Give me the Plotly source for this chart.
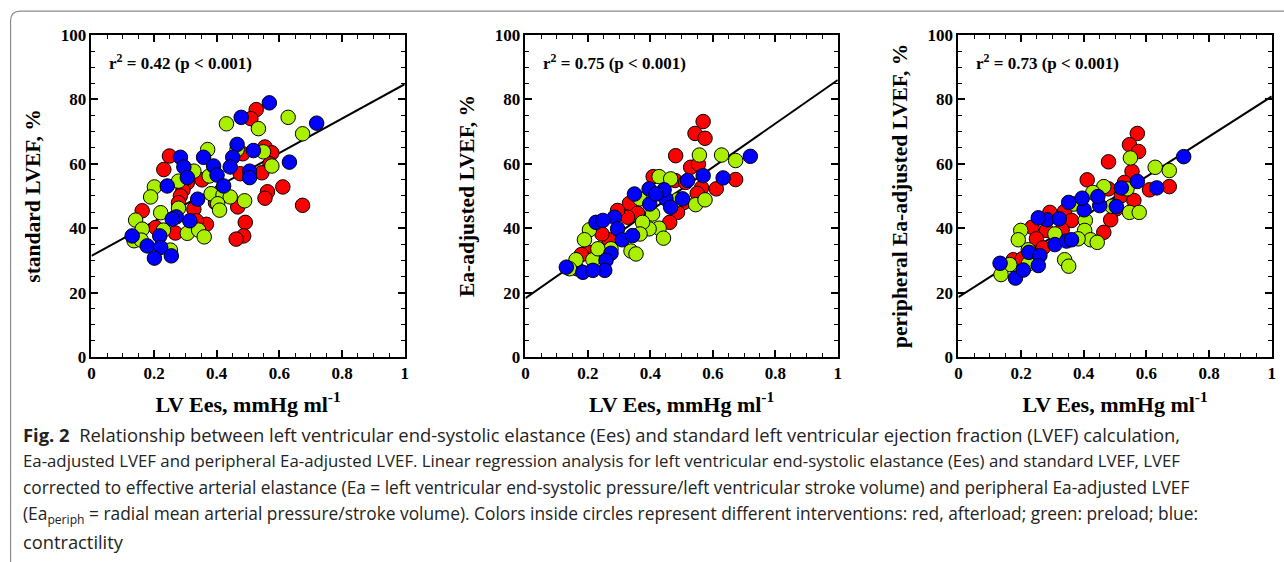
import plotly.graph_objects as go

W, H = 1284, 562

# ---------------- data ----------------
# Panel 1: standard LVEF
x1_red = [0.526,0.509,0.249,0.231,0.483,0.554,0.576,0.570,0.544,0.475,0.353,0.306,0.292,0.284,0.278,0.327,0.411,0.396,0.562,0.554,0.611,0.674,0.467,0.491,0.486,0.462,0.162,0.205,0.268,0.367,0.335]
y1_red = [76.8,74.0,62.4,58.2,63.1,65.2,63.4,60.0,57.2,56.9,55.0,54.1,51.8,50.0,47.9,45.9,51.3,47.9,51.3,49.3,52.8,47.1,46.6,41.8,37.6,36.6,45.4,40.2,38.5,41.2,42.3]
x1_green = [0.431,0.533,0.628,0.674,0.371,0.465,0.549,0.576,0.327,0.376,0.278,0.201,0.189,0.382,0.420,0.443,0.403,0.409,0.489,0.278,0.221,0.141,0.162,0.306,0.342,0.360,0.136,0.159,0.252,0.230]
y1_green = [72.4,70.9,74.4,69.3,64.4,64.4,63.7,59.3,57.7,56.2,54.6,52.8,49.7,50.7,50.3,49.7,47.6,45.6,48.5,46.2,44.8,42.5,39.7,38.4,39.4,37.3,36.1,36.3,33.2,39.4]
x1_blue = [0.568,0.478,0.719,0.465,0.517,0.451,0.284,0.358,0.632,0.295,0.390,0.443,0.401,0.505,0.505,0.242,0.422,0.306,0.339,0.271,0.314,0.258,0.130,0.218,0.178,0.221,0.255,0.201]
y1_blue = [78.9,74.4,72.6,66.0,64.1,62.0,62.0,62.0,60.5,59.0,59.3,59.0,56.5,57.7,55.7,53.1,53.1,55.7,49.0,43.5,42.3,42.8,37.6,37.6,34.5,34.0,31.4,30.7]

# Panel 2: Ea-adjusted LVEF
x2_red = [0.569,0.543,0.575,0.481,0.529,0.554,0.409,0.479,0.513,0.673,0.564,0.611,0.550,0.508,0.487,0.462,0.333,0.359,0.327,0.295,0.231,0.268,0.245,0.203,0.179,0.165]
y2_red = [73.1,69.4,67.9,62.5,58.9,59.9,56.0,54.8,54.2,55.1,52.5,52.2,50.8,48.0,44.9,41.8,47.7,44.6,43.4,45.5,41.0,36.4,38.2,32.5,31.8,27.4]
x2_green = [0.557,0.628,0.673,0.428,0.465,0.487,0.545,0.575,0.367,0.407,0.428,0.442,0.396,0.375,0.367,0.338,0.354,0.205,0.189,0.216,0.162,0.141,0.274,0.232]
y2_green = [62.7,62.7,61.0,56.0,55.3,48.8,47.3,48.8,49.1,44.4,40.0,36.9,39.8,41.8,38.2,32.9,32.0,39.5,36.4,30.2,30.2,27.4,33.6,33.6]
x2_blue = [0.720,0.633,0.569,0.519,0.503,0.450,0.444,0.465,0.396,0.398,0.349,0.418,0.285,0.295,0.310,0.343,0.226,0.248,0.274,0.258,0.254,0.131,0.184,0.216]
y2_blue = [62.3,55.6,56.3,54.8,49.1,49.1,51.9,46.5,52.2,47.5,50.6,50.6,43.4,39.8,36.4,37.7,41.8,42.4,32.2,30.0,26.9,27.9,26.3,26.9]

# Panel 3: peripheral Ea-adjusted LVEF
x3_red = [0.571,0.546,0.575,0.479,0.411,0.554,0.530,0.479,0.520,0.504,0.560,0.610,0.673,0.486,0.464,0.339,0.292,0.361,0.331,0.235,0.281,0.249,0.270,0.175,0.204]
y3_red = [69.4,65.9,63.8,60.6,55.0,57.6,54.2,52.2,50.1,46.0,48.6,51.9,52.9,42.6,38.7,45.2,44.9,42.4,39.5,40.3,39.3,36.7,33.9,30.2,30.5]
x3_green = [0.549,0.628,0.673,0.538,0.464,0.429,0.490,0.546,0.577,0.369,0.405,0.403,0.422,0.443,0.382,0.339,0.352,0.199,0.191,0.223,0.223,0.164,0.136,0.308]
y3_green = [61.8,58.9,57.9,52.2,52.9,51.1,46.8,44.9,44.9,47.5,42.4,39.3,36.4,35.6,36.7,30.2,28.2,39.3,36.4,33.3,28.9,28.7,25.6,38.2]
x3_blue = [0.719,0.633,0.571,0.520,0.504,0.451,0.445,0.401,0.395,0.352,0.283,0.308,0.345,0.255,0.225,0.260,0.255,0.133,0.182,0.207,0.322,0.361]
y3_blue = [62.2,52.5,54.5,52.5,46.7,47.0,49.8,45.7,49.3,48.0,42.6,34.9,36.0,43.2,32.5,31.5,28.4,29.1,24.5,27.0,42.9,36.4]

# regression lines
fit_intercept = [31.4, 18.3, 18.6]
fit_slope = [53.3, 67.7, 62.3]
fit_x = [0, 1]

r2_labels = ["0.42", "0.75", "0.73"]
y_titles = ["standard LVEF, %", "Ea-adjusted LVEF, %", "peripheral Ea-adjusted LVEF, %"]
x_title = "LV Ees, mmHg ml<sup>-1</sup>"

caption_lines = [
    "<b>Fig. 2</b>  Relationship between left ventricular end-systolic elastance (Ees) and standard left ventricular ejection fraction (LVEF) calculation,",
    "Ea-adjusted LVEF and peripheral Ea-adjusted LVEF. Linear regression analysis for left ventricular end-systolic elastance (Ees) and standard LVEF, LVEF",
    "corrected to effective arterial elastance (Ea = left ventricular end-systolic pressure/left ventricular stroke volume) and peripheral Ea-adjusted LVEF",
    "(Ea<sub>periph</sub> = radial mean arterial pressure/stroke volume). Colors inside circles represent different interventions: red, afterload; green: preload; blue:",
    "contractility",
]

# ---------------- styling ----------------
RED, GREEN, BLUE = "#ff0000", "#aaee00", "#0000ff"
SERIF = "Liberation Serif"

panels = [
    [(x1_red, y1_red, RED), (x1_green, y1_green, GREEN), (x1_blue, y1_blue, BLUE)],
    [(x2_red, y2_red, RED), (x2_green, y2_green, GREEN), (x2_blue, y2_blue, BLUE)],
    [(x3_red, y3_red, RED), (x3_green, y3_green, GREEN), (x3_blue, y3_blue, BLUE)],
]
x_domains = [(88.0 / W, 403.2 / W), (524.7 / W, 839.0 / W), (960.4 / W, 1275.7 / W)]
y_domain = (1 - 360.2 / H, 1 - 26.8 / H)

fig = go.Figure()
for i, series in enumerate(panels):
    ax = "" if i == 0 else str(i + 1)
    fig.add_trace(go.Scatter(
        x=fit_x, y=[fit_intercept[i] + fit_slope[i] * v for v in fit_x],
        mode="lines", line=dict(color="black", width=2),
        xaxis="x" + ax, yaxis="y" + ax, showlegend=False, hoverinfo="skip"))
    for xs, ys, col in series:
        fig.add_trace(go.Scatter(
            x=xs, y=ys, mode="markers",
            marker=dict(size=14.5, color=col, line=dict(color="black", width=1)),
            xaxis="x" + ax, yaxis="y" + ax, showlegend=False))

    axis_common = dict(
        showline=True, linecolor="black", linewidth=1.8, mirror="allticks",
        ticks="inside", ticklen=7, tickwidth=1.5, tickcolor="black",
        showgrid=False, zeroline=False,
        tickfont=dict(family=SERIF, size=17, color="black", weight="bold"),
    )
    fig.update_layout(**{
        "xaxis" + ax: dict(
            axis_common, domain=list(x_domains[i]), range=[0, 1], dtick=0.2, tick0=0,
            minor=dict(dtick=0.05, ticks="inside", ticklen=4, tickwidth=1.2, tickcolor="black"),
            anchor="y" + ax,
            title=dict(text=x_title, standoff=14,
                       font=dict(family=SERIF, size=22, color="black", weight="bold"))),
        "yaxis" + ax: dict(
            axis_common, domain=list(y_domain), range=[0, 100], dtick=20, tick0=0,
            minor=dict(dtick=5, ticks="inside", ticklen=4, tickwidth=1.2, tickcolor="black"),
            anchor="x" + ax,
            title=dict(text=y_titles[i], standoff=14,
                       font=dict(family=SERIF, size=21.5, color="black", weight="bold"))),
    })
    fig.add_annotation(
        x=0.05, y=91.6, xref="x" + ax, yref="y" + ax, xanchor="left", yanchor="middle",
        text="r<sup>2</sup> = " + r2_labels[i] + " (p < 0.001)", showarrow=False,
        font=dict(family=SERIF, size=17, color="black", weight="bold"))

# caption (per-line sizes emulate the justified column width)
caption_y = [440, 467.6, 495.2, 522.8, 551]
caption_size = [18.4, 16.8, 17.3, 17.35, 18.3]
for line, yp, fs in zip(caption_lines, caption_y, caption_size):
    fig.add_annotation(
        x=17 / W, y=1 - yp / H, xref="paper", yref="paper", xanchor="left", yanchor="middle",
        text=line, showarrow=False, align="left",
        font=dict(family="Open Sans", size=fs, color="#222222"))

# rounded frame
fx, fy, r = 6.6, 2.1, 10
fig.add_shape(
    type="path", xref="paper", yref="paper",
    path=(f"M {fx / W} -0.02 L {fx / W} {1 - (fy + r) / H} "
          f"Q {fx / W} {1 - fy / H} {(fx + r) / W} {1 - fy / H} L 1.02 {1 - fy / H}"),
    line=dict(color="#8c8c8c", width=1.2))

fig.update_layout(
    width=W, height=H, margin=dict(l=0, r=0, t=0, b=0),
    paper_bgcolor="white", plot_bgcolor="white",
)

fig.write_html(
    "out.html",
    config={"displayModeBar": False},
    post_script="document.body.style.margin='0';document.body.style.overflow='hidden';",
)
